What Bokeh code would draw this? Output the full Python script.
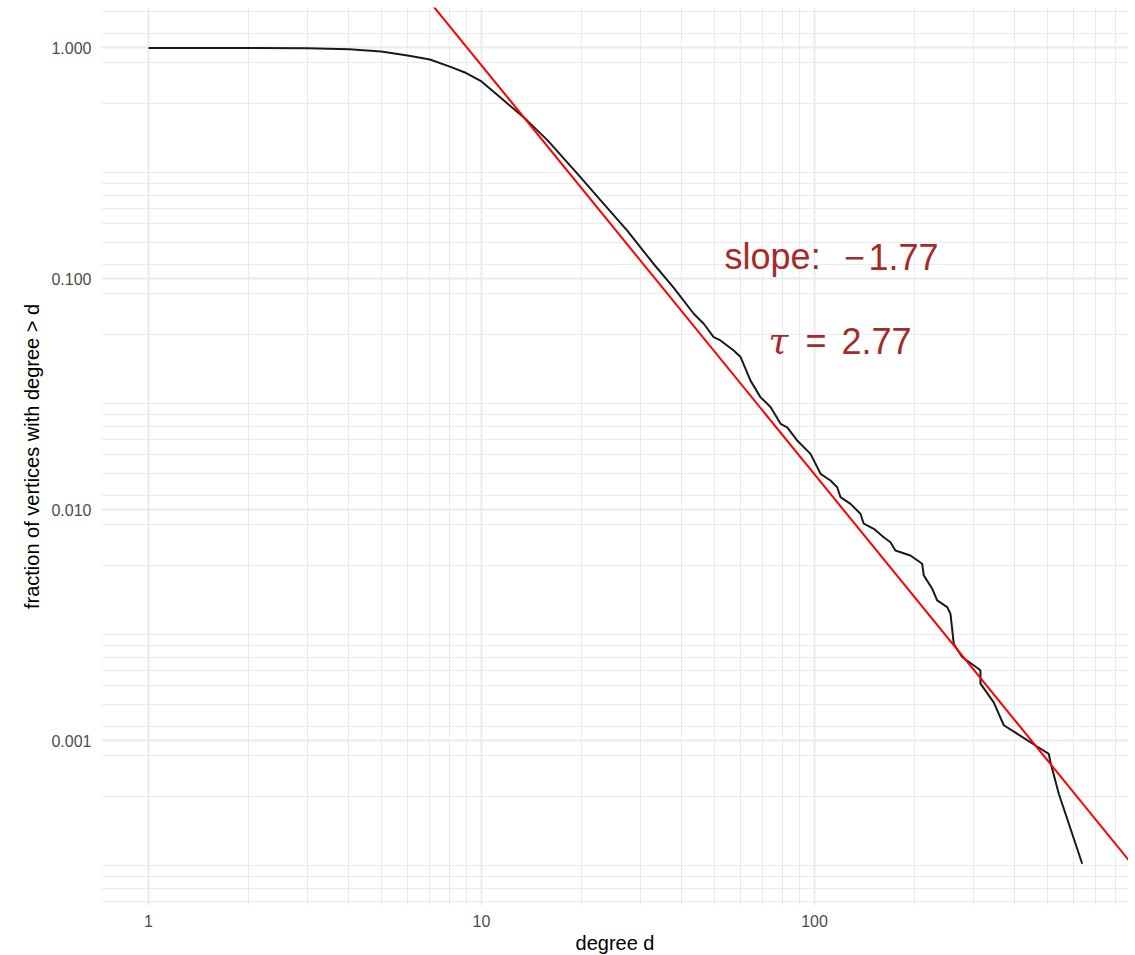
from bokeh.plotting import figure
from bokeh.models import Range1d, FixedTicker, PrintfTickFormatter, ColumnDataSource
from bokeh.core.properties import value
from bokeh.embed import file_html
from bokeh.resources import INLINE

# ---- data ----
degree = [1, 2, 3, 4, 5, 6, 7, 8, 9, 10,
          11.4, 13.7, 15.8, 19.4, 22.8, 27.4, 32.8, 37.7,
          43.4, 46.5, 49.8, 52.2, 57.2, 60.0, 64.2, 68.8, 73.8, 79.1,
          82.8, 88.7, 97.3, 104.3, 111.7, 117.0, 119.7, 128.3, 137.4, 140.6,
          150.7, 161.4, 169.1, 175.0, 194.1, 210.6, 212.9, 225.7, 233.6, 250.3,
          256.1, 262.0, 277.6, 311.4, 315.1, 315.1, 345.4, 370.3, 461.0, 505.2,
          511.2, 541.6, 636.8]
fraction = [1.0, 1.0, 0.997, 0.987, 0.966, 0.928, 0.892, 0.832, 0.779, 0.716,
            0.610, 0.486, 0.398, 0.286, 0.219, 0.162, 0.1167, 0.0919,
            0.0707, 0.0640, 0.0560, 0.0542, 0.0490, 0.0459, 0.0364, 0.0308, 0.0279, 0.0236,
            0.0228, 0.0200, 0.0175, 0.01434, 0.01342, 0.01255, 0.01136, 0.01063, 0.00963, 0.00872,
            0.00829, 0.00762, 0.00725, 0.00668, 0.00635, 0.00585, 0.00521, 0.00456, 0.00406, 0.00380,
            0.00355, 0.00263, 0.00231, 0.00205, 0.00202, 0.00177, 0.00147, 0.00117, 0.000956, 0.000880,
            0.000810, 0.000591, 0.000294]

fit_slope = -1.77
fit_intercept = 49.5   # value of the fitted line at d = 1
tau = 2.77

x_ticks = [1, 10, 100]
y_ticks = [0.001, 0.01, 0.1, 1]

slope_word = "slope:"
slope_sign = "\u2212"
slope_num = "1.77"
tau_symbol = "\u03c4"
tau_eq = "="
tau_value = "2.77"

# ---- view ----
x_lo, x_hi = 0.7226, 877.0
y_lo, y_hi = 0.000194, 1.497

x_minor = [m * 10 ** e for e in range(0, 3) for m in range(2, 10)]
y_minor = [k * 0.288675 * 10 ** e for e in range(-4, 1) for k in range(1, 11)]

p = figure(x_axis_type="log", y_axis_type="log",
           frame_width=1027, frame_height=898,
           x_range=Range1d(x_lo, x_hi), y_range=Range1d(y_lo, y_hi),
           output_backend="svg", toolbar_location=None,
           min_border_left=101, min_border_right=0,
           min_border_top=7, min_border_bottom=0)
p.outline_line_color = None
p.background_fill_color = "white"
p.border_fill_color = "white"

xt = FixedTicker(ticks=x_ticks, minor_ticks=x_minor)
yt = FixedTicker(ticks=y_ticks, minor_ticks=y_minor)
p.xaxis.ticker = xt
p.yaxis.ticker = yt
p.xgrid.ticker = xt
p.ygrid.ticker = yt
p.xaxis.formatter = PrintfTickFormatter(format="%d")
p.yaxis.formatter = PrintfTickFormatter(format="%.3f")

for g in (p.xgrid, p.ygrid):
    g.grid_line_color = "#EBEBEB"
    g.grid_line_width = 2
    g.minor_grid_line_color = "#EBEBEB"
    g.minor_grid_line_width = 1

for ax in (p.xaxis, p.yaxis):
    ax.axis_line_color = None
    ax.major_tick_line_color = None
    ax.minor_tick_line_color = None
    ax.major_tick_out = 0
    ax.major_tick_in = 0
    ax.minor_tick_out = 0
    ax.minor_tick_in = 0
    ax.major_label_text_font = "Liberation Sans"
    ax.major_label_text_font_size = "16px"
    ax.major_label_text_color = "#4D4D4D"
    ax.axis_label_text_font = "Liberation Sans"
    ax.axis_label_text_font_size = "20px"
    ax.axis_label_text_font_style = "normal"
    ax.axis_label_text_color = "black"

p.xaxis.axis_label = "degree d"
p.yaxis.axis_label = "fraction of vertices with degree > d"
p.xaxis.major_label_standoff = 9
p.xaxis.axis_label_standoff = 2
p.yaxis.major_label_standoff = 10
p.yaxis.axis_label_standoff = 5

# data curve
src = ColumnDataSource(dict(d=degree, f=fraction))
p.line("d", "f", source=src, line_color="#1A1A1A", line_width=2)

# fitted power law line across the view
fit_x = [x_lo, x_hi]
fit_y = [fit_intercept * xx ** fit_slope for xx in fit_x]
p.line(fit_x, fit_y, line_color="#FF0000", line_width=2)

# annotations
txt_color = "#A52A2A"
slope_y = 0.1245
tau_y = 0.0539
common = dict(text_font_size="36px", text_color=txt_color, text_baseline="alphabetic")
p.text(x=[53.7], y=[slope_y], text=[slope_word], text_font=value("Liberation Sans"),
       text_align="left", **common)
p.text(x=[131.9], y=[slope_y], text=[slope_sign], text_font=value("Liberation Sans"),
       text_align="center", **common)
p.text(x=[145.3], y=[slope_y], text=[slope_num], text_font=value("Liberation Sans"),
       text_align="left", **common)
p.text(x=[72.8], y=[tau_y], text=[tau_symbol], text_font=value("DejaVu Serif"),
       text_font_style="italic", text_align="left", **common)
p.text(x=[101.0], y=[tau_y], text=[tau_eq], text_font=value("Liberation Sans"),
       text_align="center", **common)
p.text(x=[120.5], y=[tau_y], text=[tau_value], text_font=value("Liberation Sans"),
       text_align="left", **common)

open("out.html", "w").write(file_html(p, INLINE))
